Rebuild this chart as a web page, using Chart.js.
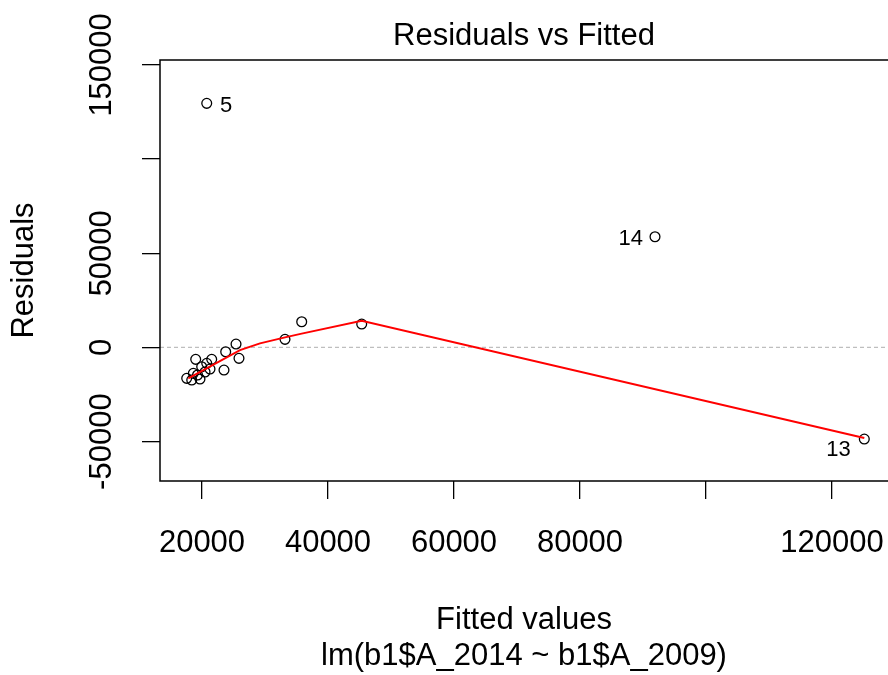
<!DOCTYPE html>
<html>
<head>
<meta charset="utf-8">
<script src="https://cdn.jsdelivr.net/npm/chart.js@4/dist/chart.umd.min.js"></script>
<style>
  html, body { margin: 0; padding: 0; background: #ffffff; }
  #wrap { width: 888px; height: 675px; }
</style>
</head>
<body>
<div id="wrap"><canvas id="c" width="888" height="675"></canvas></div>
<script>
// ---- data ----
const fittedValues   = [17570, 18370, 18620, 19000, 19290, 19680, 19950, 20750, 20480, 21270, 21540, 23490, 23760, 25400, 25870, 33175, 35825, 45350, 20750, 91905, 125127];
const residualValues = [-16400, -17310, -13750, -6320, -14650, -16780, -10250, -8440, -13060, -11470, -6320, -12000, -2280, 1800, -5790, 4300, 13640, 12420, 129580, 58770, -48630];
const smoothFitted    = [17825, 26030, 29206, 33175, 35825, 45350, 125127];
const smoothResiduals = [-16400, -1380, 2180, 5360, 7330, 14170, -48100];
const idLabels = ['5', '14', '13'];
const idIndex  = [18, 19, 20];
const xTickValues = [20000, 40000, 60000, 80000, 100000, 120000];
const xTickLabels = ['20000', '40000', '60000', '80000', '', '120000'];
const yTickValues = [-50000, 0, 50000, 100000, 150000];
const yTickLabels = ['-50000', '0', '50000', '', '150000'];
const xRange = [13333, 128889];
const yRange = [-70900, 152600];
const titleText = 'Residuals vs Fitted';
const xTitle = ['Fitted values', 'lm(b1$A_2014 ~ b1$A_2009)'];
const yTitle = 'Residuals';

const FONT = "'Liberation Sans', Arial, sans-serif";

const pts = fittedValues.map((x, i) => ({ x: x, y: residualValues[i] }));
const smooth = smoothFitted.map((x, i) => ({ x: x, y: smoothResiduals[i] }));

const extras = {
  id: 'extras',
  beforeDraw(chart) {
    const ctx = chart.ctx;
    ctx.save();
    ctx.fillStyle = '#ffffff';
    ctx.fillRect(0, 0, chart.width, chart.height);
    ctx.restore();
  },
  beforeDatasetsDraw(chart) {
    const ctx = chart.ctx, a = chart.chartArea, y = chart.scales.y;
    const y0 = y.getPixelForValue(0);
    ctx.save();
    ctx.strokeStyle = '#bebebe';
    ctx.lineWidth = 1.3;
    ctx.setLineDash([4, 3]);
    ctx.beginPath();
    ctx.moveTo(a.left, y0);
    ctx.lineTo(a.right, y0);
    ctx.stroke();
    ctx.restore();
  },
  afterDraw(chart) {
    const ctx = chart.ctx, a = chart.chartArea;
    const xs = chart.scales.x, ys = chart.scales.y;
    ctx.save();
    // box
    ctx.strokeStyle = '#000';
    ctx.lineWidth = 1.5;
    ctx.beginPath();
    ctx.moveTo(a.right + 4, a.top);
    ctx.lineTo(a.left, a.top);
    ctx.lineTo(a.left, a.bottom);
    ctx.lineTo(a.right + 4, a.bottom);
    ctx.stroke();
    // title
    ctx.fillStyle = '#000';
    ctx.font = '31px ' + FONT;
    ctx.textAlign = 'center';
    ctx.textBaseline = 'alphabetic';
    ctx.fillText(titleText, (a.left + a.right) / 2, 45);
    // y tick labels (rotated, R style)
    yTickValues.forEach((v, i) => {
      if (!yTickLabels[i]) return;
      const py = ys.getPixelForValue(v);
      ctx.save();
      ctx.translate(111, py);
      ctx.rotate(-Math.PI / 2);
      ctx.textAlign = 'center';
      ctx.textBaseline = 'alphabetic';
      ctx.fillText(yTickLabels[i], 0, 0);
      ctx.restore();
    });
    // point id labels
    ctx.font = '22px ' + FONT;
    const offs = [[13.3, 8.4, 'left'], [-12, 8.3, 'right'], [-13.6, 17, 'right']];
    idIndex.forEach((k, j) => {
      const px = xs.getPixelForValue(fittedValues[k]);
      const py = ys.getPixelForValue(residualValues[k]);
      ctx.textAlign = offs[j][2];
      ctx.fillText(idLabels[j], px + offs[j][0], py + offs[j][1]);
    });
    ctx.restore();
  }
};

new Chart(document.getElementById('c'), {
  type: 'scatter',
  data: {
    datasets: [
      {
        label: 'smooth',
        data: smooth,
        showLine: true,
        borderColor: '#ff0000',
        borderWidth: 2,
        pointRadius: 0,
        fill: false,
        tension: 0
      },
      {
        label: 'residuals',
        data: pts,
        pointStyle: 'circle',
        pointRadius: 4.9,
        pointBorderWidth: 1.3,
        pointBorderColor: '#000',
        pointBackgroundColor: 'rgba(0,0,0,0)',
        borderColor: '#000',
        backgroundColor: 'rgba(0,0,0,0)'
      }
    ]
  },
  options: {
    responsive: false,
    animation: false,
    devicePixelRatio: 1,
    layout: { autoPadding: false, padding: { top: 60, left: 0, right: 0, bottom: 0 } },
    plugins: { legend: { display: false }, tooltip: { enabled: false }, title: { display: false } },
    scales: {
      x: {
        type: 'linear',
        position: 'bottom',
        min: xRange[0],
        max: xRange[1],
        afterBuildTicks(scale) { scale.ticks = xTickValues.map(v => ({ value: v })); },
        afterFit(scale) { scale.height = 194; scale.paddingLeft = 0; scale.paddingRight = 0; scale.paddingTop = 0; scale.paddingBottom = 0; },
        grid: { drawOnChartArea: false, drawTicks: true, tickLength: 18, color: '#000', lineWidth: 1.3 },
        border: { display: false },
        ticks: {
          autoSkip: false,
          maxRotation: 0,
          minRotation: 0,
          padding: 26,
          color: '#000',
          font: { family: FONT, size: 31 },
          callback: (v) => { const i = xTickValues.indexOf(v); return i >= 0 ? xTickLabels[i] : ''; }
        },
        title: {
          display: true,
          text: xTitle,
          color: '#000',
          font: { family: FONT, size: 31, lineHeight: '36px' },
          padding: { top: 0, bottom: 0.5 }
        }
      },
      y: {
        type: 'linear',
        position: 'left',
        min: yRange[0],
        max: yRange[1],
        afterBuildTicks(scale) { scale.ticks = yTickValues.map(v => ({ value: v })); },
        afterFit(scale) { scale.width = 160; scale.paddingLeft = 0; scale.paddingRight = 0; scale.paddingTop = 0; scale.paddingBottom = 0; },
        grid: { drawOnChartArea: false, drawTicks: true, tickLength: 18, color: '#000', lineWidth: 1.3 },
        border: { display: false },
        ticks: { display: false },
        title: {
          display: true,
          text: yTitle,
          color: '#000',
          font: { family: FONT, size: 31, lineHeight: '36px' },
          padding: { top: 6.5, bottom: 0 }
        }
      }
    }
  },
  plugins: [extras]
});
</script>
</body>
</html>
